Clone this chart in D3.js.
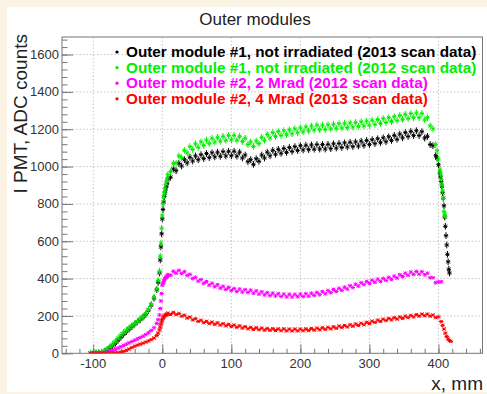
<!DOCTYPE html>
<html>
<head>
<meta charset="utf-8">
<script src="https://cdn.jsdelivr.net/npm/d3@7/dist/d3.min.js"></script>
<style>
  html, body { margin: 0; padding: 0; background: #fbf4e4; }
  svg { display: block; }
</style>
</head>
<body>
<svg id="chart" width="487" height="394"></svg>
<script>
// scan positions: x = scanStart + i * scanStep (mm)
const scanStart = -104;
const scanStep = 4;

const legendLabels = [
    "Outer module #1, not irradiated (2013 scan data)",
    "Outer module #1, not irradiated (2012 scan data)",
    "Outer module #2, 2 Mrad (2012 scan data)",
    "Outer module #2, 4 Mrad (2013 scan data)"
];

const module1Scan2013 = [
    0, 0, 1, 2, 5, 10, 18, 28, 40, 54, 70, 86, 102, 116, 130, 143, 156, 168, 180, 193,
    208, 230, 258, 295, 340, 430, 720, 860,
    932, 943, 987, 978, 1017, 1003, 1037, 1020, 1050, 1030,
    1057, 1037, 1064, 1043, 1070, 1048, 1074, 1052, 1077, 1055,
    1080, 1057, 1082, 1058, 1082, 1056, 1077, 1046, 1062, 1026,
    1037, 1012, 1042, 1028, 1062, 1046, 1077, 1058, 1087, 1066,
    1092, 1071, 1097, 1076, 1102, 1081, 1107, 1086, 1112, 1089,
    1114, 1091, 1116, 1093, 1118, 1094, 1118, 1094, 1119, 1096,
    1122, 1099, 1124, 1102, 1127, 1105, 1130, 1107, 1132, 1110,
    1136, 1114, 1140, 1118, 1144, 1123, 1149, 1128, 1154, 1133,
    1160, 1140, 1167, 1146, 1174, 1154, 1182, 1161, 1188, 1166,
    1192, 1166, 1187, 1153, 1162, 1118, 1112, 1058, 1010, 920,
    790, 580, 430
];

const module1Scan2012 = [
    0, 0, 1, 3, 6, 12, 22, 35, 50, 65, 82, 98, 112, 124, 136, 148, 160, 172, 184, 196,
    212, 235, 262, 300, 345, 440, 740, 880,
    957, 973, 1017, 1018, 1057, 1048, 1087, 1073, 1107, 1091,
    1122, 1103, 1132, 1113, 1142, 1123, 1152, 1131, 1157, 1136,
    1162, 1141, 1167, 1143, 1167, 1141, 1162, 1134, 1152, 1118,
    1132, 1108, 1137, 1123, 1157, 1141, 1172, 1153, 1182, 1161,
    1187, 1166, 1192, 1171, 1197, 1176, 1202, 1181, 1207, 1186,
    1212, 1191, 1217, 1196, 1222, 1198, 1222, 1199, 1224, 1202,
    1227, 1205, 1230, 1207, 1232, 1209, 1234, 1212, 1237, 1215,
    1240, 1218, 1244, 1222, 1248, 1226, 1252, 1231, 1257, 1236,
    1262, 1241, 1267, 1246, 1274, 1253, 1280, 1258, 1284, 1262,
    1287, 1262, 1284, 1250, 1262, 1218, 1202, 1118, 1040, 930,
    760
];

const module2Mrad2 = [
    0, 0, 0, 1, 2, 4, 7, 11, 16, 22, 28, 35, 42, 49, 56, 63, 70, 77, 84, 91,
    100, 110, 122, 137, 160, 205, 365, 400,
    422, 418, 439, 429, 444, 427, 437, 417, 423, 401,
    407, 387, 395, 375, 384, 365, 375, 357, 367, 349,
    359, 342, 353, 336, 347, 331, 344, 328, 341, 326,
    338, 322, 334, 317, 329, 313, 325, 309, 322, 307,
    319, 304, 317, 302, 316, 302, 316, 303, 317, 304,
    319, 306, 322, 310, 326, 314, 330, 319, 336, 325,
    342, 331, 348, 337, 354, 344, 362, 352, 370, 360,
    378, 368, 385, 374, 391, 380, 397, 385, 401, 390,
    407, 396, 413, 403, 421, 411, 429, 418, 435, 423,
    438, 424, 437, 420, 429, 405, 405, 378, 382, 383
];

const module2Mrad4 = [
    0, 0, 0, 0, 0, 0, 0, 1, 2, 3, 4, 6, 10, 16, 23, 31, 38, 44, 49, 54,
    60, 66, 73, 82, 95, 125, 180, 203,
    215, 208, 219, 207, 213, 199, 204, 189, 194, 179,
    185, 171, 177, 164, 171, 159, 167, 155, 163, 151,
    159, 147, 155, 143, 151, 139, 147, 135, 143, 131,
    139, 128, 137, 126, 135, 124, 133, 123, 132, 122,
    131, 121, 131, 120, 130, 120, 130, 120, 130, 121,
    131, 122, 133, 124, 135, 126, 137, 128, 139, 131,
    142, 134, 146, 138, 149, 141, 153, 145, 157, 149,
    161, 153, 166, 159, 172, 165, 178, 171, 183, 175,
    187, 179, 191, 183, 195, 187, 199, 191, 203, 195,
    207, 199, 210, 201, 210, 199, 205, 191, 195, 170,
    130, 90, 68
];

// extra fine-step points on the module edges
const riseX = [-6, -3, -2, -1, 1, 2, 3, 5, 6, 7];
const module1Rise2013 = [380, 500, 570, 640, 770, 810, 840, 880, 895, 910];
const module1Rise2012 = [390, 520, 590, 670, 800, 835, 860, 905, 920, 935];
const module2Rise2 = [180, 240, 280, 320, 375, 385, 393, 405, 408, 412];
const module2Rise4 = [108, 140, 155, 168, 188, 195, 199, 205, 208, 210];

const module1FallX2013 = [398, 402, 403, 405, 406, 407, 409, 410, 411, 413, 414, 415];
const module1Fall2013 = [1045, 965, 945, 895, 860, 830, 730, 680, 630, 530, 490, 450];
const module1FallX2012 = [398, 402, 403, 405, 406, 407, 409, 410];
const module1Fall2012 = [1085, 985, 960, 900, 870, 830, 745, 732];
const module2FallX2 = [];
const module2Fall2 = [];
const module2FallX4 = [406, 410, 414, 418];
const module2Fall4 = [150, 108, 76, 64];

const seriesErrors = [18, 18, 10, 8];
const xTicks = [-100, 0, 100, 200, 300, 400];
const yTicks = [0, 200, 400, 600, 800, 1000, 1200, 1400, 1600];

const series = [
    { scan: module1Scan2013, riseV: module1Rise2013, fallX: module1FallX2013, fallV: module1Fall2013 },
    { scan: module1Scan2012, riseV: module1Rise2012, fallX: module1FallX2012, fallV: module1Fall2012 },
    { scan: module2Mrad2, riseV: module2Rise2, fallX: module2FallX2, fallV: module2Fall2 },
    { scan: module2Mrad4, riseV: module2Rise4, fallX: module2FallX4, fallV: module2Fall4 }
];
const colors = ["#000000", "#00ee00", "#ff00ff", "#ff0000"];
const font = "'Liberation Sans', Arial, Helvetica, sans-serif";

const frame = { left: 62, right: 482.5, top: 37, bottom: 353.3 };

const x = d3.scaleLinear().domain([-145.3, 463.8]).range([frame.left, frame.right]);
const y = d3.scaleLinear().domain([0, 1694]).range([frame.bottom, frame.top]);

const svg = d3.select("#chart");

svg.append("rect")
    .attr("x", 7).attr("y", 7)
    .attr("width", 480).attr("height", 385)
    .attr("fill", "#ffffff");

svg.append("clipPath").attr("id", "plot-clip")
    .append("rect")
    .attr("x", frame.left).attr("y", frame.top)
    .attr("width", frame.right - frame.left)
    .attr("height", frame.bottom - frame.top);

// grid
const grid = svg.append("g")
    .attr("stroke", "#b8b8b8")
    .attr("stroke-width", 0.8)
    .attr("stroke-dasharray", "1.5,2");

grid.selectAll("line.gx")
    .data(xTicks)
    .join("line")
    .attr("class", "gx")
    .attr("x1", d => x(d)).attr("x2", d => x(d))
    .attr("y1", frame.top).attr("y2", frame.bottom);

grid.selectAll("line.gy")
    .data(yTicks.filter(d => d > 0))
    .join("line")
    .attr("class", "gy")
    .attr("x1", frame.left).attr("x2", frame.right)
    .attr("y1", d => y(d)).attr("y2", d => y(d));

// axes with inward ticks
const tickAxis = (axis, values, size) => g => g
    .call(axis.tickValues(values).tickSize(size).tickFormat(""))
    .call(g => g.select(".domain").remove())
    .call(g => g.selectAll(".tick line").attr("stroke", "#777"));

svg.append("g").attr("transform", `translate(0,${frame.bottom})`)
    .call(tickAxis(d3.axisTop(x), d3.range(-140, 461, 20), 4.5));
svg.append("g").attr("transform", `translate(0,${frame.bottom})`)
    .call(tickAxis(d3.axisTop(x), xTicks, 9));
svg.append("g").attr("transform", `translate(${frame.left},0)`)
    .call(tickAxis(d3.axisRight(y), d3.range(0, 1681, 40), 5.5));
svg.append("g").attr("transform", `translate(${frame.left},0)`)
    .call(tickAxis(d3.axisRight(y), yTicks, 11));

// data points: error bar + star marker
const plot = svg.append("g").attr("clip-path", "url(#plot-clip)");

series.forEach((s, k) => {
    const err = seriesErrors[k];
    const pts = s.scan.map((v, i) => ({ x: scanStart + i * scanStep, v }))
        .concat(riseX.map((px, i) => ({ x: px, v: s.riseV[i] })))
        .concat(s.fallX.map((px, i) => ({ x: px, v: s.fallV[i] })));
    plot.append("g")
        .attr("stroke", colors[k])
        .attr("stroke-width", 1)
        .attr("fill", "none")
        .selectAll("path")
        .data(pts)
        .join("path")
        .attr("d", d => {
            const px = x(d.x), py = y(d.v);
            const y0 = y(d.v - err), y1 = y(d.v + err);
            return `M${px},${y0}V${y1}` +
                `M${px - 2.2},${py}h4.4` +
                `M${px - 1.7},${py - 1.7}l3.4,3.4` +
                `M${px - 1.7},${py + 1.7}l3.4,-3.4`;
        });
});

// frame
svg.append("rect")
    .attr("x", frame.left).attr("y", frame.top)
    .attr("width", frame.right - frame.left)
    .attr("height", frame.bottom - frame.top)
    .attr("fill", "none")
    .attr("stroke", "#777")
    .attr("stroke-width", 1);

// tick labels
svg.append("g")
    .attr("font-family", font)
    .attr("font-size", 13)
    .attr("fill", "#333")
    .attr("text-anchor", "middle")
    .selectAll("text")
    .data(xTicks)
    .join("text")
    .attr("x", d => x(d))
    .attr("y", 368)
    .text(d => d);

svg.append("g")
    .attr("font-family", font)
    .attr("font-size", 13)
    .attr("fill", "#333")
    .attr("text-anchor", "end")
    .selectAll("text")
    .data(yTicks)
    .join("text")
    .attr("x", frame.left - 3)
    .attr("y", d => y(d))
    .attr("dy", "0.35em")
    .text(d => d);

// titles
svg.append("text")
    .attr("x", 255).attr("y", 25)
    .attr("text-anchor", "middle")
    .attr("font-family", font)
    .attr("font-size", 17)
    .attr("fill", "#222")
    .text("Outer modules");

svg.append("text")
    .attr("transform", "translate(27,34) rotate(-90)")
    .attr("text-anchor", "end")
    .attr("font-family", font)
    .attr("font-size", 19)
    .attr("fill", "#222")
    .text("I PMT, ADC counts");

svg.append("text")
    .attr("x", 483).attr("y", 390)
    .attr("text-anchor", "end")
    .attr("font-family", font)
    .attr("font-size", 19)
    .attr("fill", "#222")
    .text("x, mm");

// legend
const legend = svg.append("g")
    .selectAll("g")
    .data(legendLabels)
    .join("g")
    .attr("transform", (d, i) => `translate(117,${57 + i * 15.6})`);

legend.append("circle")
    .attr("cx", 0).attr("cy", -5)
    .attr("r", 1.6)
    .attr("fill", (d, i) => colors[i]);

legend.append("text")
    .attr("x", 9)
    .attr("font-family", font)
    .attr("font-size", 15.3)
    .attr("font-weight", "bold")
    .attr("fill", (d, i) => colors[i])
    .text(d => d);
</script>
</body>
</html>
